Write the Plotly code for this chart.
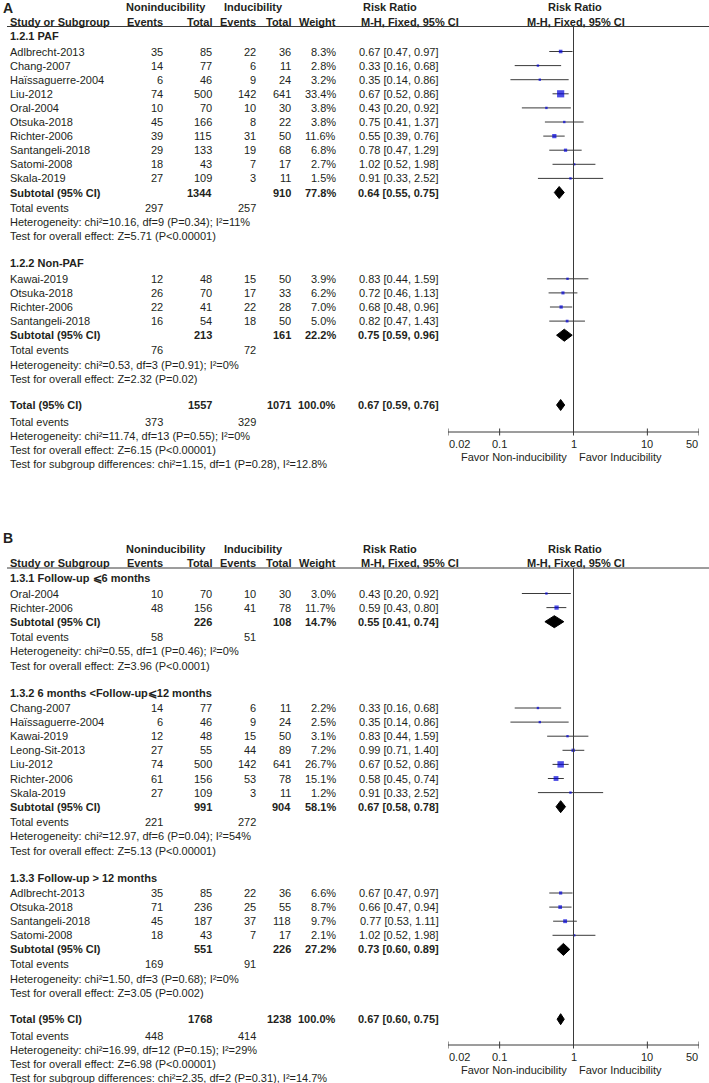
import math
import plotly.graph_objects as go

W, H = 709, 1083
FONT = "Liberation Sans, Arial, sans-serif"
TXT = "#231f20"
LINE = "#3a3a3a"
BLUE = "#0000d8"

# ---------------- Panel A data ----------------
A1_title = "1.2.1 PAF"
A1_study = ["Adlbrecht-2013", "Chang-2007", "Haïssaguerre-2004", "Liu-2012", "Oral-2004",
            "Otsuka-2018", "Richter-2006", "Santangeli-2018", "Satomi-2008", "Skala-2019"]
A1_ev_non = [35, 14, 6, 74, 10, 45, 39, 29, 18, 27]
A1_tot_non = [85, 77, 46, 500, 70, 166, 115, 133, 43, 109]
A1_ev_ind = [22, 6, 9, 142, 10, 8, 31, 19, 7, 3]
A1_tot_ind = [36, 11, 24, 641, 30, 22, 50, 68, 17, 11]
A1_weight = [8.3, 2.8, 3.2, 33.4, 3.8, 3.8, 11.6, 6.8, 2.7, 1.5]
A1_rr = [0.67, 0.33, 0.35, 0.67, 0.43, 0.75, 0.55, 0.78, 1.02, 0.91]
A1_lo = [0.47, 0.16, 0.14, 0.52, 0.20, 0.41, 0.39, 0.47, 0.52, 0.33]
A1_hi = [0.97, 0.68, 0.86, 0.86, 0.92, 1.37, 0.76, 1.29, 1.98, 2.52]
A1_subtotal = [1344, 910, 77.8, 0.64, 0.55, 0.75]
A1_events = [297, 257]
A1_het = "Heterogeneity: chi²=10.16, df=9 (P=0.34); I²=11%"
A1_z = "Test for overall effect: Z=5.71 (P<0.00001)"

A2_title = "1.2.2 Non-PAF"
A2_study = ["Kawai-2019", "Otsuka-2018", "Richter-2006", "Santangeli-2018"]
A2_ev_non = [12, 26, 22, 16]
A2_tot_non = [48, 70, 41, 54]
A2_ev_ind = [15, 17, 22, 18]
A2_tot_ind = [50, 33, 28, 50]
A2_weight = [3.9, 6.2, 7.0, 5.0]
A2_rr = [0.83, 0.72, 0.68, 0.82]
A2_lo = [0.44, 0.46, 0.48, 0.47]
A2_hi = [1.59, 1.13, 0.96, 1.43]
A2_subtotal = [213, 161, 22.2, 0.75, 0.59, 0.96]
A2_events = [76, 72]
A2_het = "Heterogeneity: chi²=0.53, df=3 (P=0.91); I²=0%"
A2_z = "Test for overall effect: Z=2.32 (P=0.02)"

A_total = [1557, 1071, 100.0, 0.67, 0.59, 0.76]
A_events = [373, 329]
A_het = "Heterogeneity: chi²=11.74, df=13 (P=0.55); I²=0%"
A_z = "Test for overall effect: Z=6.15 (P<0.00001)"
A_sub = "Test for subgroup differences: chi²=1.15, df=1 (P=0.28), I²=12.8%"

# ---------------- Panel B data ----------------
B1_title = "1.3.1 Follow-up ⩽6 months"
B1_study = ["Oral-2004", "Richter-2006"]
B1_ev_non = [10, 48]
B1_tot_non = [70, 156]
B1_ev_ind = [10, 41]
B1_tot_ind = [30, 78]
B1_weight = [3.0, 11.7]
B1_rr = [0.43, 0.59]
B1_lo = [0.20, 0.43]
B1_hi = [0.92, 0.80]
B1_subtotal = [226, 108, 14.7, 0.55, 0.41, 0.74]
B1_events = [58, 51]
B1_het = "Heterogeneity: chi²=0.55, df=1 (P=0.46); I²=0%"
B1_z = "Test for overall effect: Z=3.96 (P<0.0001)"

B2_title = "1.3.2 6 months <Follow-up⩽12 months"
B2_study = ["Chang-2007", "Haïssaguerre-2004", "Kawai-2019", "Leong-Sit-2013",
            "Liu-2012", "Richter-2006", "Skala-2019"]
B2_ev_non = [14, 6, 12, 27, 74, 61, 27]
B2_tot_non = [77, 46, 48, 55, 500, 156, 109]
B2_ev_ind = [6, 9, 15, 44, 142, 53, 3]
B2_tot_ind = [11, 24, 50, 89, 641, 78, 11]
B2_weight = [2.2, 2.5, 3.1, 7.2, 26.7, 15.1, 1.2]
B2_rr = [0.33, 0.35, 0.83, 0.99, 0.67, 0.58, 0.91]
B2_lo = [0.16, 0.14, 0.44, 0.71, 0.52, 0.45, 0.33]
B2_hi = [0.68, 0.86, 1.59, 1.40, 0.86, 0.74, 2.52]
B2_subtotal = [991, 904, 58.1, 0.67, 0.58, 0.78]
B2_events = [221, 272]
B2_het = "Heterogeneity: chi²=12.97, df=6 (P=0.04); I²=54%"
B2_z = "Test for overall effect: Z=5.13 (P<0.00001)"

B3_title = "1.3.3 Follow-up > 12 months"
B3_study = ["Adlbrecht-2013", "Otsuka-2018", "Santangeli-2018", "Satomi-2008"]
B3_ev_non = [35, 71, 45, 18]
B3_tot_non = [85, 236, 187, 43]
B3_ev_ind = [22, 25, 37, 7]
B3_tot_ind = [36, 55, 118, 17]
B3_weight = [6.6, 8.7, 9.7, 2.1]
B3_rr = [0.67, 0.66, 0.77, 1.02]
B3_lo = [0.47, 0.47, 0.53, 0.52]
B3_hi = [0.97, 0.94, 1.11, 1.98]
B3_subtotal = [551, 226, 27.2, 0.73, 0.60, 0.89]
B3_events = [169, 91]
B3_het = "Heterogeneity: chi²=1.50, df=3 (P=0.68); I²=0%"
B3_z = "Test for overall effect: Z=3.05 (P=0.002)"

B_total = [1768, 1238, 100.0, 0.67, 0.60, 0.75]
B_events = [448, 414]
B_het = "Heterogeneity: chi²=16.99, df=12 (P=0.15); I²=29%"
B_z = "Test for overall effect: Z=6.98 (P<0.00001)"
B_sub = "Test for subgroup differences: chi²=2.35, df=2 (P=0.31), I²=14.7%"

AXIS_TICKS = [0.02, 0.1, 1, 10, 50]
AXIS_LABELS = ["0.02", "0.1", "1", "10", "50"]
FAVOR_LEFT = "Favor Non-inducibility"
FAVOR_RIGHT = "Favor Inducibility"

# ---------------- drawing helpers ----------------
fig = go.Figure()
annotations = []
shapes = []

# column right edges (px)
C_STUDY, C_EVN, C_TOTN, C_EVI, C_TOTI, C_W, C_RR = 9, 164, 213, 257, 292, 337, 440


def txt(x, y, s, anchor="left", bold=False, size=11):
    annotations.append(dict(
        x=x / W, y=y, xref="paper", yref="y",
        text=f"<b>{s}</b>" if bold else s, showarrow=False,
        xanchor=anchor, yanchor="middle", borderpad=0,
        font=dict(family=FONT, size=size, color=TXT)))


def ci_str(rr, lo, hi):
    return f"{rr:.2f} [{lo:.2f}, {hi:.2f}]"


def diamond(y, est, lo, hi, hh=6):
    fig.add_trace(go.Scatter(
        x=[lo, est, hi, est, lo], y=[y, y - hh, y, y + hh, y],
        mode="lines", fill="toself", fillcolor="black",
        line=dict(color="black", width=1), hoverinfo="skip", showlegend=False))


def header(ytop, ystudy, yline, letter, yletter):
    txt(2, yletter, letter, bold=True, size=14)
    txt(166, ytop, "Noninducibility", anchor="center", bold=True)
    txt(253, ytop, "Inducibility", anchor="center", bold=True)
    txt(362, ytop, "Risk Ratio", bold=True)
    txt(575, ytop, "Risk Ratio", anchor="center", bold=True)
    txt(C_STUDY, ystudy, "Study or Subgroup", bold=True)
    txt(C_EVN, ystudy, "Events", anchor="right", bold=True)
    txt(C_TOTN, ystudy, "Total", anchor="right", bold=True)
    txt(C_EVI, ystudy, "Events", anchor="right", bold=True)
    txt(C_TOTI, ystudy, "Total", anchor="right", bold=True)
    txt(C_W, ystudy, "Weight", anchor="right", bold=True)
    txt(360, ystudy, "M-H, Fixed, 95% CI", bold=True)
    txt(576, ystudy, "M-H, Fixed, 95% CI", anchor="center", bold=True)
    shapes.append(dict(type="line", xref="paper", yref="y", x0=7 / W, x1=1,
                       y0=yline, y1=yline, line=dict(color=LINE, width=1)))


STEP = 14.1


def group(y, title, study, evn, totn, evi, toti, w, rr, lo, hi, sub, events, het, z):
    txt(C_STUDY, y, title, bold=True)
    y += 15.5
    ys = []
    for i, s in enumerate(study):
        txt(C_STUDY, y, s)
        txt(C_EVN, y, str(evn[i]), anchor="right")
        txt(C_TOTN, y, str(totn[i]), anchor="right")
        txt(C_EVI, y, str(evi[i]), anchor="right")
        txt(C_TOTI, y, str(toti[i]), anchor="right")
        txt(C_W, y, f"{w[i]:.1f}%", anchor="right")
        txt(C_RR, y, ci_str(rr[i], lo[i], hi[i]), anchor="right")
        ys.append(y)
        y += STEP
    # CI lines
    xs, yl = [], []
    for i in range(len(study)):
        xs += [lo[i], hi[i], None]
        yl += [ys[i], ys[i], None]
    fig.add_trace(go.Scatter(x=xs, y=yl, mode="lines", line=dict(color=LINE, width=1),
                             hoverinfo="skip", showlegend=False))
    fig.add_trace(go.Scatter(
        x=rr, y=ys, mode="markers",
        marker=dict(symbol="square", color=BLUE, line=dict(width=0),
                    size=[max(2.4, 7.2 * math.sqrt(v / 33.4)) for v in w]),
        hoverinfo="skip", showlegend=False))
    # subtotal
    txt(C_STUDY, y, "Subtotal (95% CI)", bold=True)
    txt(C_TOTN, y, str(sub[0]), anchor="right", bold=True)
    txt(C_TOTI, y, str(sub[1]), anchor="right", bold=True)
    txt(C_W, y, f"{sub[2]:.1f}%", anchor="right", bold=True)
    txt(C_RR, y, ci_str(sub[3], sub[4], sub[5]), anchor="right", bold=True)
    diamond(y, sub[3], sub[4], sub[5])
    y += 15
    txt(C_STUDY, y, "Total events")
    txt(C_EVN, y, str(events[0]), anchor="right")
    txt(C_EVI, y, str(events[1]), anchor="right")
    y += 14.5
    txt(C_STUDY, y, het)
    y += 14.3
    txt(C_STUDY, y, z)
    return y


def totals(y, tot, events, het, z, subdiff):
    txt(C_STUDY, y, "Total (95% CI)", bold=True)
    txt(C_TOTN, y, str(tot[0]), anchor="right", bold=True)
    txt(C_TOTI, y, str(tot[1]), anchor="right", bold=True)
    txt(C_W, y, f"{tot[2]:.1f}%", anchor="right", bold=True)
    txt(C_RR, y, ci_str(tot[3], tot[4], tot[5]), anchor="right", bold=True)
    diamond(y, tot[3], tot[4], tot[5], hh=5.5)
    y += 16.5
    txt(C_STUDY, y, "Total events")
    txt(C_EVN, y, str(events[0]), anchor="right")
    txt(C_EVI, y, str(events[1]), anchor="right")
    for s in (het, z, subdiff):
        y += 14.2
        txt(C_STUDY, y, s)


def axis(ytop, yaxis):
    # reference line at 1 and horizontal axis
    fig.add_trace(go.Scatter(x=[1, 1], y=[ytop, yaxis], mode="lines",
                             line=dict(color=LINE, width=1), hoverinfo="skip", showlegend=False))
    fig.add_trace(go.Scatter(x=[AXIS_TICKS[0], AXIS_TICKS[-1]], y=[yaxis, yaxis], mode="lines",
                             line=dict(color=LINE, width=1), hoverinfo="skip", showlegend=False))
    tx, ty = [], []
    for t in AXIS_TICKS:
        tx += [t, t, None]
        ty += [yaxis - 3.5, yaxis + 3.5, None]
    fig.add_trace(go.Scatter(x=tx, y=ty, mode="lines", line=dict(color=LINE, width=1),
                             hoverinfo="skip", showlegend=False))
    n = len(AXIS_TICKS)
    for i, (t, lab) in enumerate(zip(AXIS_TICKS, AXIS_LABELS)):
        anchor = "left" if i == 0 else ("right" if i == n - 1 else "center")
        annotations.append(dict(
            x=math.log10(t), y=yaxis + 12, xref="x", yref="y", text=lab, showarrow=False,
            xanchor=anchor, yanchor="middle", borderpad=0,
            font=dict(family=FONT, size=11, color=TXT)))
    txt(568, yaxis + 24.5, FAVOR_LEFT, anchor="right")
    txt(578, yaxis + 24.5, FAVOR_RIGHT, anchor="left")


# ---------------- Panel A ----------------
header(7, 22, 26.5, "A", 8)
y = group(36, A1_title, A1_study, A1_ev_non, A1_tot_non, A1_ev_ind, A1_tot_ind, A1_weight,
          A1_rr, A1_lo, A1_hi, A1_subtotal, A1_events, A1_het, A1_z)
y = group(y + 27, A2_title, A2_study, A2_ev_non, A2_tot_non, A2_ev_ind, A2_tot_ind, A2_weight,
          A2_rr, A2_lo, A2_hi, A2_subtotal, A2_events, A2_het, A2_z)
totals(y + 26, A_total, A_events, A_het, A_z, A_sub)
axis(26.5, 432)

# ---------------- Panel B ----------------
header(549, 563, 568, "B", 538)
y = group(578, B1_title, B1_study, B1_ev_non, B1_tot_non, B1_ev_ind, B1_tot_ind, B1_weight,
          B1_rr, B1_lo, B1_hi, B1_subtotal, B1_events, B1_het, B1_z)
y = group(y + 27, B2_title, B2_study, B2_ev_non, B2_tot_non, B2_ev_ind, B2_tot_ind, B2_weight,
          B2_rr, B2_lo, B2_hi, B2_subtotal, B2_events, B2_het, B2_z)
y = group(y + 27, B3_title, B3_study, B3_ev_non, B3_tot_non, B3_ev_ind, B3_tot_ind, B3_weight,
          B3_rr, B3_lo, B3_hi, B3_subtotal, B3_events, B3_het, B3_z)
totals(y + 26, B_total, B_events, B_het, B_z, B_sub)
axis(568, 1045)

fig.update_layout(
    width=W, height=H, margin=dict(l=0, r=0, t=0, b=0),
    paper_bgcolor="white", plot_bgcolor="white", showlegend=False,
    xaxis=dict(type="log", range=[math.log10(0.02), math.log10(50)],
               domain=[448 / W, 699 / W], visible=False, fixedrange=True),
    yaxis=dict(range=[H, 0], domain=[0, 1], visible=False, fixedrange=True),
    annotations=annotations, shapes=shapes,
)
fig.write_html(
    "out.html",
    config={"displayModeBar": False},
    post_script="document.body.style.margin='0';document.body.style.padding='0';"
                "document.body.style.overflow='hidden';",
)
